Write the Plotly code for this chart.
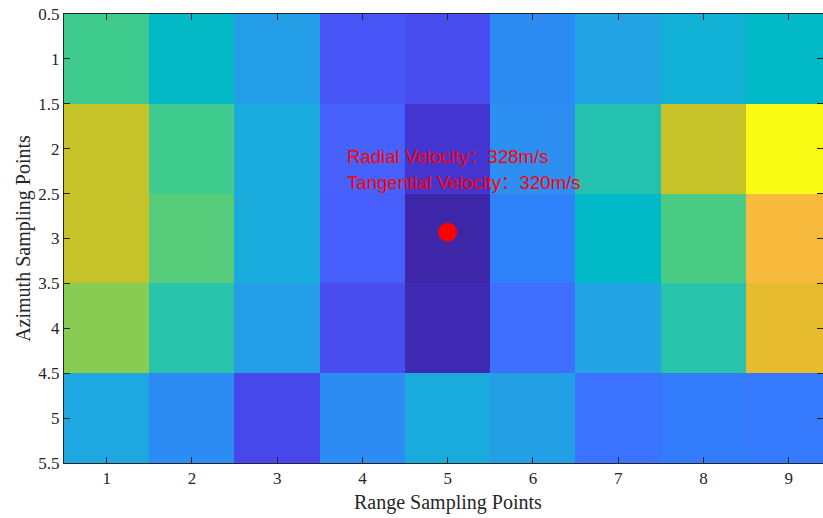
import plotly.graph_objects as go

# MATLAB-style parula colormap (64 entries)
parula_rgb = [
    (0.2422, 0.1504, 0.6603), (0.2504, 0.1650, 0.7076), (0.2578, 0.1818, 0.7511), (0.2647, 0.1978, 0.7952),
    (0.2706, 0.2147, 0.8364), (0.2751, 0.2342, 0.8710), (0.2783, 0.2559, 0.8991), (0.2803, 0.2782, 0.9221),
    (0.2813, 0.3006, 0.9414), (0.2810, 0.3228, 0.9579), (0.2795, 0.3447, 0.9717), (0.2760, 0.3667, 0.9829),
    (0.2699, 0.3892, 0.9906), (0.2602, 0.4123, 0.9952), (0.2440, 0.4358, 0.9988), (0.2206, 0.4603, 0.9973),
    (0.1963, 0.4847, 0.9892), (0.1834, 0.5074, 0.9798), (0.1786, 0.5289, 0.9682), (0.1764, 0.5499, 0.9520),
    (0.1687, 0.5703, 0.9359), (0.1540, 0.5902, 0.9218), (0.1460, 0.6091, 0.9079), (0.1380, 0.6276, 0.8973),
    (0.1248, 0.6459, 0.8883), (0.1113, 0.6635, 0.8763), (0.0952, 0.6798, 0.8598), (0.0689, 0.6948, 0.8394),
    (0.0297, 0.7082, 0.8163), (0.0036, 0.7203, 0.7917), (0.0067, 0.7312, 0.7660), (0.0433, 0.7411, 0.7394),
    (0.0964, 0.7500, 0.7120), (0.1408, 0.7584, 0.6842), (0.1717, 0.7670, 0.6554), (0.1938, 0.7758, 0.6251),
    (0.2161, 0.7843, 0.5923), (0.2470, 0.7918, 0.5567), (0.2906, 0.7973, 0.5188), (0.3406, 0.8008, 0.4789),
    (0.3909, 0.8029, 0.4354), (0.4456, 0.8024, 0.3909), (0.5044, 0.7993, 0.3480), (0.5616, 0.7942, 0.3045),
    (0.6174, 0.7876, 0.2612), (0.6720, 0.7793, 0.2227), (0.7242, 0.7698, 0.1910), (0.7738, 0.7598, 0.1646),
    (0.8203, 0.7498, 0.1535), (0.8634, 0.7406, 0.1596), (0.9035, 0.7330, 0.1774), (0.9393, 0.7288, 0.2100),
    (0.9728, 0.7298, 0.2394), (0.9956, 0.7434, 0.2371), (0.9970, 0.7659, 0.2199), (0.9952, 0.7893, 0.2028),
    (0.9892, 0.8136, 0.1885), (0.9786, 0.8386, 0.1766), (0.9676, 0.8639, 0.1643), (0.9610, 0.8890, 0.1537),
    (0.9597, 0.9135, 0.1423), (0.9628, 0.9373, 0.1265), (0.9691, 0.9606, 0.1064), (0.9769, 0.9839, 0.0805),
]
n = len(parula_rgb)
parula = [
    [i / (n - 1), "rgb({:.0f},{:.0f},{:.0f})".format(r * 255, g * 255, b * 255)]
    for i, (r, g, b) in enumerate(parula_rgb)
]

# Sampling grid
range_points = [1, 2, 3, 4, 5, 6, 7, 8, 9]
azimuth_points = [1, 2, 3, 4, 5]

# Echo level per cell (rows = azimuth, columns = range)
level_az1 = [37.0, 29.7, 22.5, 9.5, 8.0, 19.0, 23.5, 27.0, 29.5]
level_az2 = [47.0, 37.0, 25.5, 11.5, 3.5, 19.5, 33.0, 47.0, 63.0]
level_az3 = [47.0, 39.0, 25.5, 11.0, 0.0, 17.0, 29.5, 38.0, 52.0]
level_az4 = [42.5, 33.5, 22.5, 8.0, 1.0, 14.0, 23.5, 33.5, 50.0]
level_az5 = [24.5, 19.0, 7.0, 19.0, 25.5, 23.0, 14.5, 16.0, 15.5]
levels = [level_az1, level_az2, level_az3, level_az4, level_az5]

# Estimated target position and velocities
target_range = [5.0]
target_azimuth = [2.93]
radial_velocity = 328
tangential_velocity = 320

serif = "Liberation Serif, Times New Roman, serif"
sans = "Liberation Sans, Arial, Noto Sans CJK SC, sans-serif"

fig = go.Figure()
fig.add_trace(go.Heatmap(
    x=range_points, y=azimuth_points, z=levels,
    colorscale=parula, zmin=0, zmax=63, showscale=False,
    hoverinfo="skip",
))
fig.add_trace(go.Scatter(
    x=target_range, y=target_azimuth, mode="markers",
    marker=dict(color="#ff0000", size=19, line=dict(width=0)),
    showlegend=False, hoverinfo="skip",
))

fig.add_annotation(
    x=3.8, y=2.09, xref="x", yref="y", xanchor="left", yanchor="middle",
    text="Radial Velocity：{}m/s".format(radial_velocity), showarrow=False,
    font=dict(family=sans, size=18.6, color="#ff0000"),
)
fig.add_annotation(
    x=3.8, y=2.38, xref="x", yref="y", xanchor="left", yanchor="middle",
    text="Tangential Velocity：{}m/s".format(tangential_velocity), showarrow=False,
    font=dict(family=sans, size=18.6, color="#ff0000"),
)

# x-axis title centred under the full column span
fig.add_annotation(
    x=5, y=0, xref="x", yref="paper", xanchor="center", yanchor="top", yshift=-26,
    text="Range Sampling Points", showarrow=False,
    font=dict(family=serif, size=20, color="#262626"),
)

axis_common = dict(
    showline=True, linecolor="#262626", linewidth=1, mirror="ticks",
    ticks="inside", ticklen=6, tickwidth=1, tickcolor="#262626",
    showgrid=False, zeroline=False,
    tickfont=dict(family=serif, size=17, color="#262626"),
)

fig.update_layout(
    width=823, height=518,
    margin=dict(l=64, r=0, t=14, b=55),
    paper_bgcolor="white", plot_bgcolor="white",
    xaxis=dict(
        range=[0.5, 9.403], tickvals=range_points,
        **axis_common,
    ),
    yaxis=dict(
        range=[5.5, 0.5], tickvals=[0.5, 1, 1.5, 2, 2.5, 3, 3.5, 4, 4.5, 5, 5.5],
        ticktext=["0.5", "1", "1.5", "2", "2.5", "3", "3.5", "4", "4.5", "5", "5.5"],
        title=dict(text="Azimuth Sampling Points", font=dict(family=serif, size=20, color="#262626"), standoff=2),
        **axis_common,
    ),
)

fig.write_html("out.html")
